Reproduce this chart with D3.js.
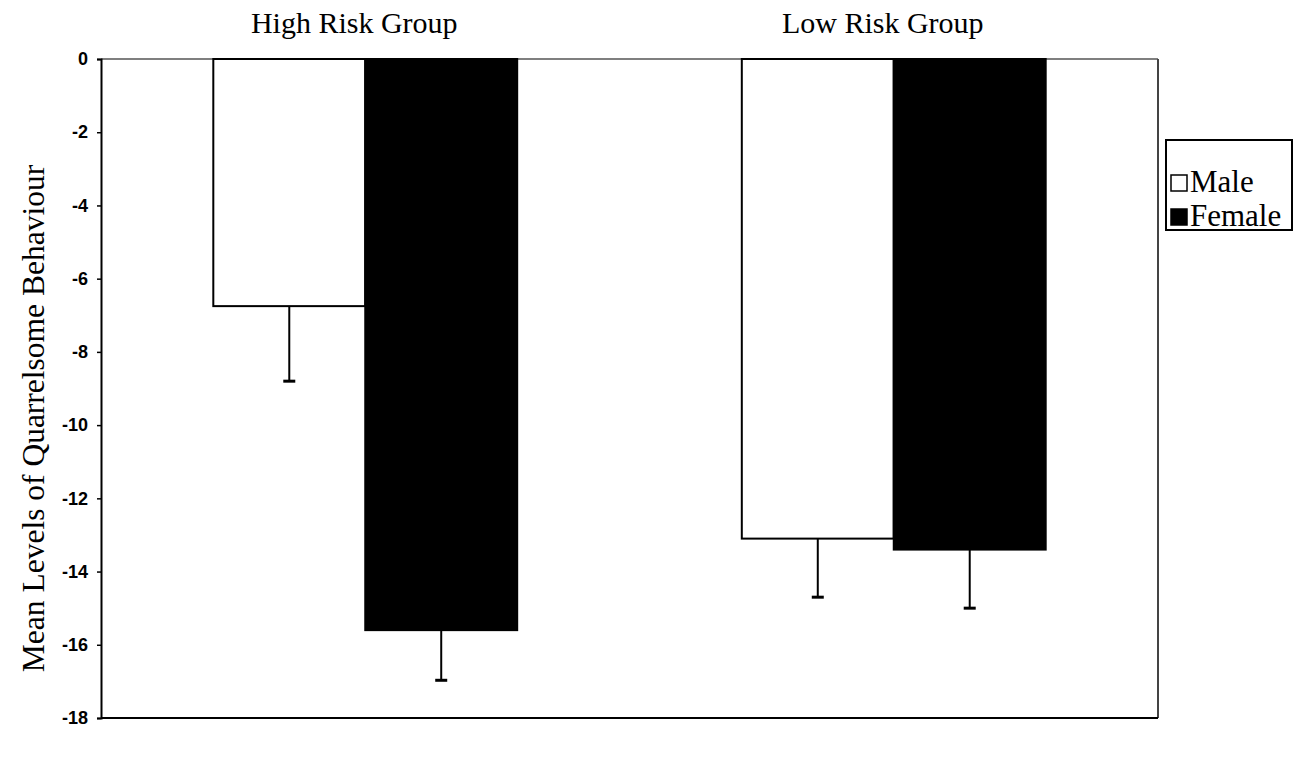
<!DOCTYPE html>
<html>
<head>
<meta charset="utf-8">
<script src="https://cdn.jsdelivr.net/npm/d3@7"></script>
<style>
  body { margin: 0; background: #fff; }
  svg { display: block; }
</style>
</head>
<body>
<svg id="chart"></svg>
<script>
// data
const groups = ["High Risk Group", "Low Risk Group"];
const sexes = ["Male", "Female"];
const maleMeans = [-6.75, -13.1];
const femaleMeans = [-15.6, -13.4];
const maleErrEnd = [-8.8, -14.7];
const femaleErrEnd = [-16.97, -15.0];
const yTicks = [0, -2, -4, -6, -8, -10, -12, -14, -16, -18];
const fills = { Male: "#fff", Female: "#000" };

const width = 1305, height = 759;
const margin = { top: 59, right: 147, bottom: 41, left: 101 };
const innerWidth = width - margin.left - margin.right;
const innerHeight = height - margin.top - margin.bottom;

const serif = "'Times New Roman', 'Liberation Serif', serif";

const svg = d3.select("#chart").attr("width", width).attr("height", height);
const g = svg.append("g").attr("transform", `translate(${margin.left},${margin.top})`);

// build rows from the arrays
const rows = [];
groups.forEach((grp, i) => {
  rows.push({ group: grp, sex: "Male", value: maleMeans[i], err: maleErrEnd[i] });
  rows.push({ group: grp, sex: "Female", value: femaleMeans[i], err: femaleErrEnd[i] });
});

// scales (excel style gap width)
const x0 = d3.scaleBand().domain(groups).range([0, innerWidth])
  .paddingInner(0.425).paddingOuter(0.2125);
const x1 = d3.scaleBand().domain(sexes).range([0, x0.bandwidth()]).padding(0);
const y = d3.scaleLinear().domain([0, -18]).range([0, innerHeight]);

// plot frame (top and right sides are lighter)
g.append("line").attr("x1", 0).attr("x2", innerWidth).attr("y1", 0).attr("y2", 0)
  .attr("stroke", "#555").attr("stroke-width", 1.5);
g.append("line").attr("x1", innerWidth).attr("x2", innerWidth).attr("y1", 0).attr("y2", innerHeight)
  .attr("stroke", "#444").attr("stroke-width", 2);

// bars
g.selectAll(".bar")
  .data(rows)
  .enter()
  .append("rect")
  .attr("class", "bar")
  .attr("x", d => x0(d.group) + x1(d.sex))
  .attr("y", y(0))
  .attr("width", x1.bandwidth())
  .attr("height", d => y(d.value) - y(0))
  .attr("fill", d => fills[d.sex])
  .attr("stroke", "#000")
  .attr("stroke-width", 2);

// error bars, one sided downwards
const cx = d => x0(d.group) + x1(d.sex) + x1.bandwidth() / 2;
const eb = g.selectAll(".err").data(rows).enter().append("g").attr("class", "err");
eb.append("line")
  .attr("x1", cx).attr("x2", cx)
  .attr("y1", d => y(d.value))
  .attr("y2", d => y(d.err))
  .attr("stroke", "#000").attr("stroke-width", 2);
eb.append("line")
  .attr("x1", d => cx(d) - 6)
  .attr("x2", d => cx(d) + 6)
  .attr("y1", d => y(d.err))
  .attr("y2", d => y(d.err))
  .attr("stroke", "#000").attr("stroke-width", 3);

// y axis
const yAxis = g.append("g")
  .call(d3.axisLeft(y).tickValues(yTicks).tickSize(4).tickPadding(9).tickFormat(d => String(d)));
yAxis.select(".domain").attr("stroke", "#000").attr("stroke-width", 2);
yAxis.selectAll(".tick line").attr("stroke", "#000").attr("stroke-width", 1.5);
yAxis.selectAll("text")
  .style("font-family", "Arial, 'Liberation Sans', sans-serif")
  .style("font-size", "18px")
  .style("font-weight", "bold")
  .attr("fill", "#000");

// bottom axis line
g.append("line").attr("x1", 0).attr("x2", innerWidth).attr("y1", innerHeight).attr("y2", innerHeight)
  .attr("stroke", "#000").attr("stroke-width", 2);

// group titles along the top
g.selectAll(".grp-title")
  .data(groups)
  .enter()
  .append("text")
  .attr("class", "grp-title")
  .attr("x", d => x0(d) + x0.bandwidth() / 2 - 11)
  .attr("y", -26)
  .attr("text-anchor", "middle")
  .style("font-family", serif)
  .style("font-size", "30px")
  .text(d => d);

// y axis label
svg.append("text")
  .attr("transform", `translate(44, ${margin.top + innerHeight / 2 + 30}) rotate(-90)`)
  .attr("text-anchor", "middle")
  .style("font-family", serif)
  .style("font-size", "31.5px")
  .text("Mean Levels of Quarrelsome Behaviour");

// legend
const legend = svg.append("g").attr("transform", "translate(1166, 140)");
legend.append("rect").attr("width", 126).attr("height", 90)
  .attr("fill", "#fff").attr("stroke", "#000").attr("stroke-width", 2);
sexes.forEach((s, i) => {
  const row = legend.append("g").attr("transform", `translate(5, ${35 + i * 34})`);
  row.append("rect").attr("width", 16).attr("height", 16)
    .attr("fill", fills[s]).attr("stroke", "#000").attr("stroke-width", 1.5);
  row.append("text").attr("x", 19).attr("y", 17)
    .style("font-family", serif)
    .style("font-size", "31px")
    .text(s);
});
</script>
</body>
</html>
